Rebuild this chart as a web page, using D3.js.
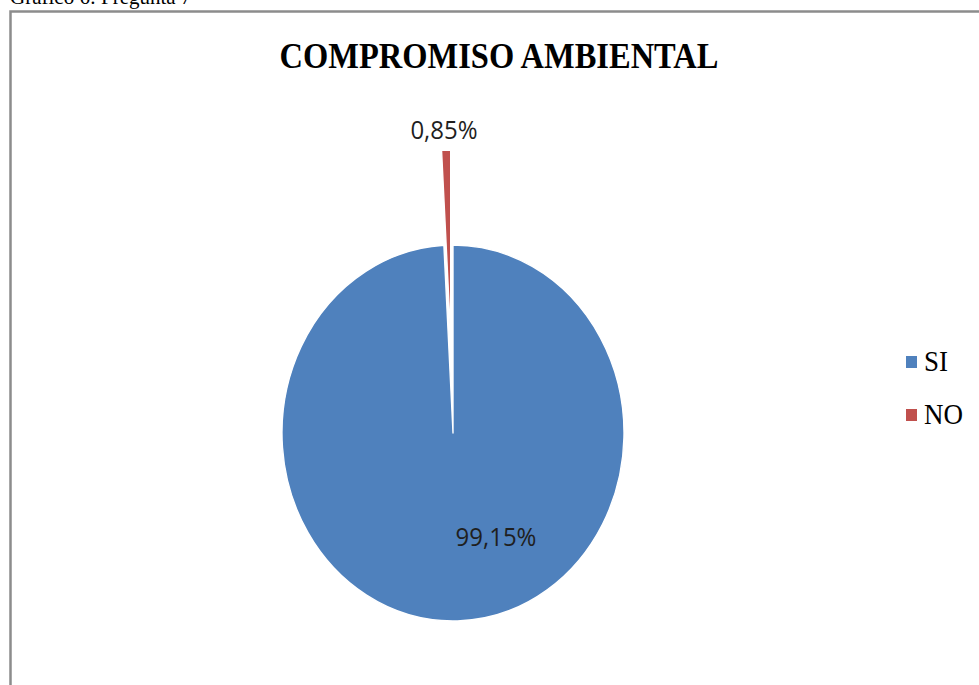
<!DOCTYPE html>
<html><head><meta charset="utf-8">
<script src="https://cdn.jsdelivr.net/npm/d3@7"></script>
<style>body{margin:0;background:#fff;}svg{display:block;}</style>
</head><body>
<svg id="c" width="979" height="685"></svg>
<script>
const categories = ["SI", "NO"];
const values = [99.15, 0.85];
const labels = ["99,15%", "0,85%"];
const colors = ["#4F81BD", "#C0504D"];
const title = "COMPROMISO AMBIENTAL";
const caption = "Gráfico 6: Pregunta 7";

const svg = d3.select("#c");
// caption, cut at the top edge as in the reference
svg.append("text").attr("x", 10).attr("y", 4).attr("font-family", "Liberation Serif")
  .attr("font-size", 21).attr("fill", "#000").text(caption);
// frame
svg.append("rect").attr("x", 10.5).attr("y", 11.5).attr("width", 1000).attr("height", 1000)
  .attr("fill", "none").attr("stroke", "#8c8c8c").attr("stroke-width", 2.5);

// title
svg.append("text").attr("transform", "translate(499,68) scale(1,1.12)")
  .attr("text-anchor", "middle").attr("font-family", "Liberation Serif").attr("font-weight", "bold")
  .attr("font-size", 32.5).attr("fill", "#000").text(title);

const cx = 453, cy = 433, ry = 188, sx = 171 / 188;
const pie = d3.pie().sort(null).value(d => d)(values);
const arc = d3.arc().innerRadius(0).outerRadius(ry);
const explode = [0, 95];

const g = svg.append("g").attr("transform", `translate(${cx},${cy}) scale(${sx},1)`);
g.selectAll("path").data(pie).enter().append("path")
  .attr("d", arc)
  .attr("transform", (d, i) => {
    const a = (d.startAngle + d.endAngle) / 2;
    return `translate(${Math.sin(a) * explode[i]},${-Math.cos(a) * explode[i]})`;
  })
  .attr("fill", (d, i) => colors[i])
  .attr("stroke", "#fff").attr("stroke-width", 1.5).attr("stroke-linejoin", "round");

// data labels
const labelPos = [[496, 546], [444, 139]];
svg.selectAll("text.lbl").data(labels).enter().append("text").attr("class", "lbl")
  .attr("transform", (d, i) => `translate(${labelPos[i][0]},${labelPos[i][1]}) scale(1,1.08)`)
  .attr("text-anchor", "middle").attr("font-family", "Open Sans, Noto Sans, sans-serif")
  .attr("font-size", 24).attr("fill", "#1f1f1f").text(d => d);

// legend
const leg = svg.selectAll("g.leg").data(categories).enter().append("g").attr("class", "leg")
  .attr("transform", (d, i) => `translate(906,${356 + i * 53})`);
leg.append("rect").attr("width", 11).attr("height", 12).attr("fill", (d, i) => colors[i]);
leg.append("text").attr("transform", "translate(18,15) scale(1,1.1)").attr("font-family", "Liberation Serif")
  .attr("font-size", 27).attr("fill", "#000").text(d => d);
</script>
</body></html>
